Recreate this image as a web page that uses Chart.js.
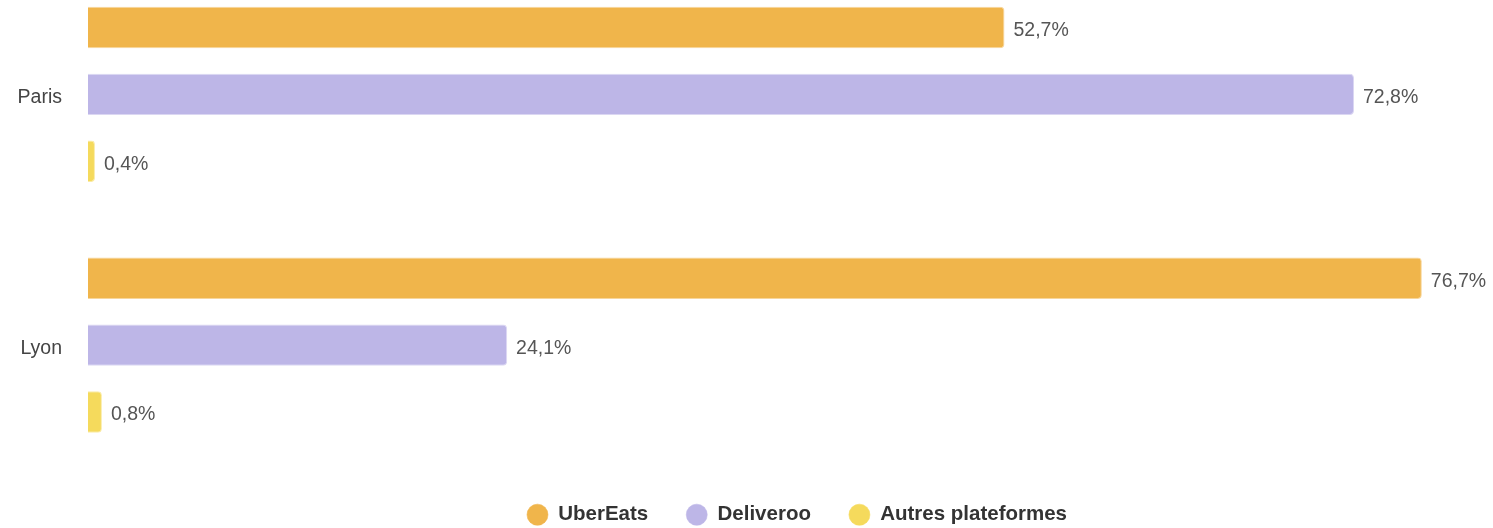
<!DOCTYPE html>
<html>
<head>
<meta charset="utf-8">
<script src="https://cdn.jsdelivr.net/npm/chart.js@4.4.1/dist/chart.umd.min.js"></script>
<style>
  html, body {
    margin: 0;
    padding: 0;
    background: #fff;
    overflow: hidden;
    width: 1493px;
    height: 528px;
  }
  .chart-wrapper {
    position: absolute;
    left: 0;
    top: -31px;
  }
</style>
</head>
<body>
<div class="chart-wrapper">
  <canvas id="chart" width="1594" height="570"></canvas>
</div>
<script>
const cities = ['Paris', 'Lyon'];
const seriesNames = ['UberEats', 'Deliveroo', 'Autres plateformes'];
const uberEats = [52.7, 76.7];
const deliveroo = [72.8, 24.1];
const autres = [0.4, 0.8];

const colors = ['#f0b54b', '#bdb6e7', '#f5da5c'];
const borders = ['rgba(240,181,75,0.55)', 'rgba(189,182,231,0.55)', 'rgba(245,218,92,0.55)'];

const FONT = '"Liberation Sans", Arial, sans-serif';

// value labels at the end of each bar
const valueLabels = {
  id: 'valueLabels',
  afterDatasetsDraw(chart) {
    const ctx = chart.ctx;
    ctx.save();
    ctx.font = '19.5px ' + FONT;
    ctx.fillStyle = '#555';
    ctx.textAlign = 'left';
    ctx.textBaseline = 'middle';
    chart.data.datasets.forEach((ds, i) => {
      const meta = chart.getDatasetMeta(i);
      meta.data.forEach((bar, j) => {
        const txt = ds.data[j].toFixed(1).replace('.', ',') + '%';
        ctx.fillText(txt, bar.x + 9, bar.y + 3);
      });
    });
    ctx.restore();
  }
};

// pull the legend a little closer to the bars
const legendNudge = {
  id: 'legendNudge',
  afterLayout(chart) {
    chart.legend.top -= 4;
    chart.legend.bottom -= 4;
  }
};

const series = [uberEats, deliveroo, autres];

new Chart(document.getElementById('chart'), {
  type: 'bar',
  data: {
    labels: cities,
    datasets: series.map((d, i) => ({
      label: seriesNames[i],
      data: d,
      backgroundColor: colors[i],
      borderColor: borders[i],
      borderWidth: 1,
      borderRadius: 4,
      borderSkipped: 'start',
      categoryPercentage: 0.8,
      barPercentage: 0.62
    }))
  },
  options: {
    indexAxis: 'y',
    responsive: false,
    animation: false,
    layout: { padding: 0 },
    scales: {
      x: {
        display: false,
        min: 0,
        max: 86.6
      },
      y: {
        grid: { display: false, drawTicks: false },
        border: { display: false },
        ticks: {
          padding: 26,
          labelOffset: 3,
          color: '#444',
          font: { family: FONT, size: 19.5 }
        },
        afterFit(scale) {
          scale.width = 88;
          scale.paddingTop = 0;
          scale.paddingBottom = 0;
        }
      }
    },
    plugins: {
      tooltip: { enabled: false },
      legend: {
        position: 'bottom',
        labels: {
          usePointStyle: true,
          pointStyle: 'circle',
          pointStyleWidth: 21,
          boxHeight: 15,
          padding: 38,
          color: '#333',
          font: { family: FONT, size: 20.5, weight: 'bold' }
        }
      }
    }
  },
  plugins: [valueLabels, legendNudge]
});
</script>
</body>
</html>
